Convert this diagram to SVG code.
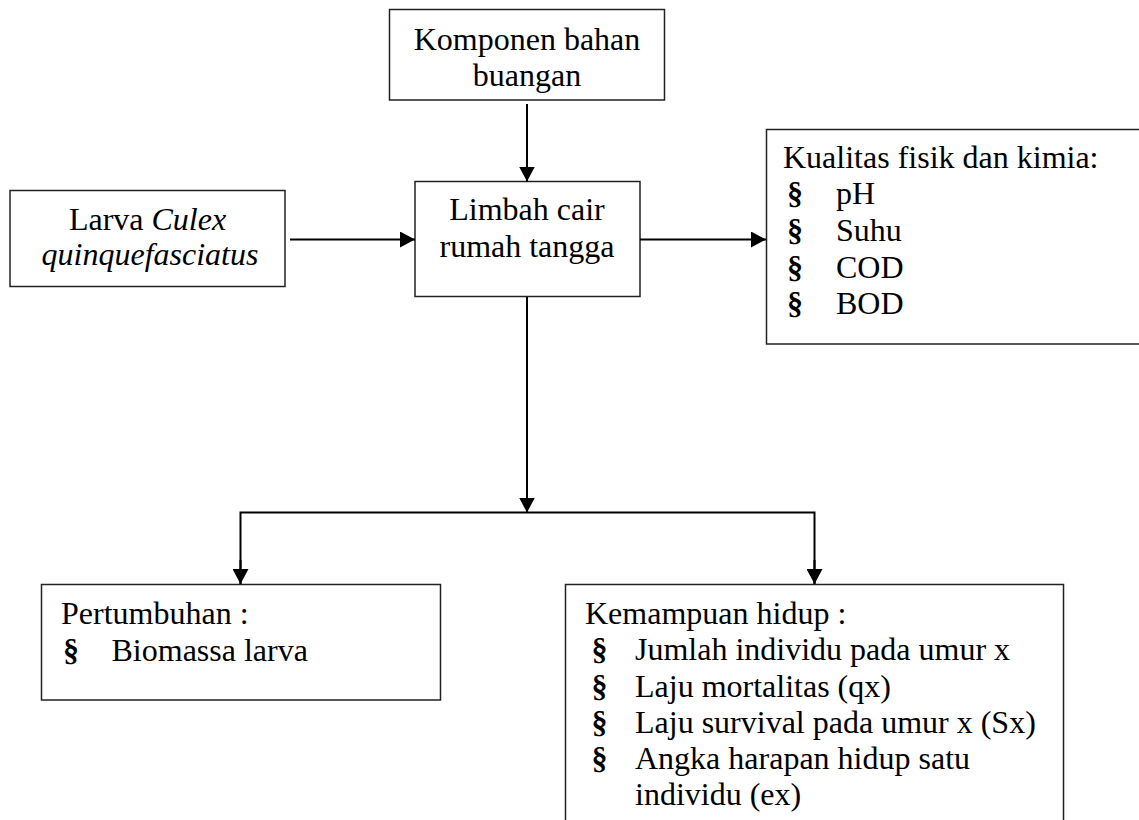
<svg xmlns="http://www.w3.org/2000/svg" width="1139" height="820" viewBox="0 0 1139 820">
<style>
text{font-family:"Liberation Serif","Times New Roman",serif;font-size:32px;fill:#000}
.c{text-anchor:middle}
.b{font-weight:bold}
.box{fill:#fff;stroke:#222;stroke-width:1.5}
.con{fill:none;stroke:#000;stroke-width:2}
</style>
<defs>
<marker id="ah" markerUnits="userSpaceOnUse" markerWidth="16" markerHeight="16" refX="15" refY="8" orient="auto">
<path d="M0,0 L15,8 L0,16 z" fill="#000"/>
</marker>
</defs>
<rect width="1139" height="820" fill="#fff"/>
<g id="komponen">
<rect class="box" x="389.5" y="9.5" width="275" height="90.5"/>
<text class="c" x="527" y="50">Komponen bahan</text>
<text class="c" x="527" y="86">buangan</text>
</g>
<g id="larva">
<rect class="box" x="10" y="190.5" width="275" height="96"/>
<text class="c" x="147.5" y="230">Larva <tspan font-style="italic">Culex</tspan></text>
<text class="c" x="150" y="265" font-style="italic">quinquefasciatus</text>
</g>
<g id="limbah">
<rect class="box" x="415" y="181.5" width="225" height="115"/>
<text class="c" x="527" y="220">Limbah cair</text>
<text class="c" x="527" y="257">rumah tangga</text>
</g>
<g id="kualitas">
<rect class="box" x="766.5" y="129.5" width="380" height="214.5"/>
<text x="783" y="168">Kualitas fisik dan kimia:</text>
<text class="b" x="787" y="204">§</text><text x="836" y="204">pH</text>
<text class="b" x="787" y="241">§</text><text x="836" y="241">Suhu</text>
<text class="b" x="787" y="278">§</text><text x="836" y="278">COD</text>
<text class="b" x="787" y="314">§</text><text x="836" y="314">BOD</text>
</g>
<g id="pertumbuhan">
<rect class="box" x="41.5" y="584.5" width="399" height="115.5"/>
<text x="61" y="624">Pertumbuhan :</text>
<text class="b" x="63" y="660.5">§</text><text x="111.5" y="660.5">Biomassa larva</text>
</g>
<g id="kemampuan">
<path class="box" d="M565.5,825 V584.5 H1063.5 V825"/>
<text x="585" y="623.5">Kemampuan hidup :</text>
<text class="b" x="591.5" y="660">§</text><text x="635" y="660">Jumlah individu pada umur x</text>
<text class="b" x="591.5" y="696.5">§</text><text x="635" y="696.5">Laju mortalitas (qx)</text>
<text class="b" x="591.5" y="733">§</text><text x="635" y="733">Laju survival pada umur x (Sx)</text>
<text class="b" x="591.5" y="769">§</text><text x="635" y="769">Angka harapan hidup satu</text>
<text x="635" y="805">individu (ex)</text>
</g>
<g id="connectors">
<line class="con" x1="527" y1="104" x2="527" y2="181.5" stroke-width="1" marker-end="url(#ah)"/>
<line class="con" x1="290" y1="239.5" x2="415" y2="239.5" marker-end="url(#ah)"/>
<line class="con" x1="640" y1="239.5" x2="766" y2="239.5" marker-end="url(#ah)"/>
<line class="con" x1="527" y1="297" x2="527" y2="512.5" marker-end="url(#ah)"/>
<polyline class="con" points="240.5,584 240.5,512.5 814.5,512.5 814.5,584" stroke-width="2.5"/>
<line class="con" x1="240.5" y1="560" x2="240.5" y2="584" marker-end="url(#ah)"/>
<line class="con" x1="814.5" y1="560" x2="814.5" y2="584" marker-end="url(#ah)"/>
</g>
</svg>
